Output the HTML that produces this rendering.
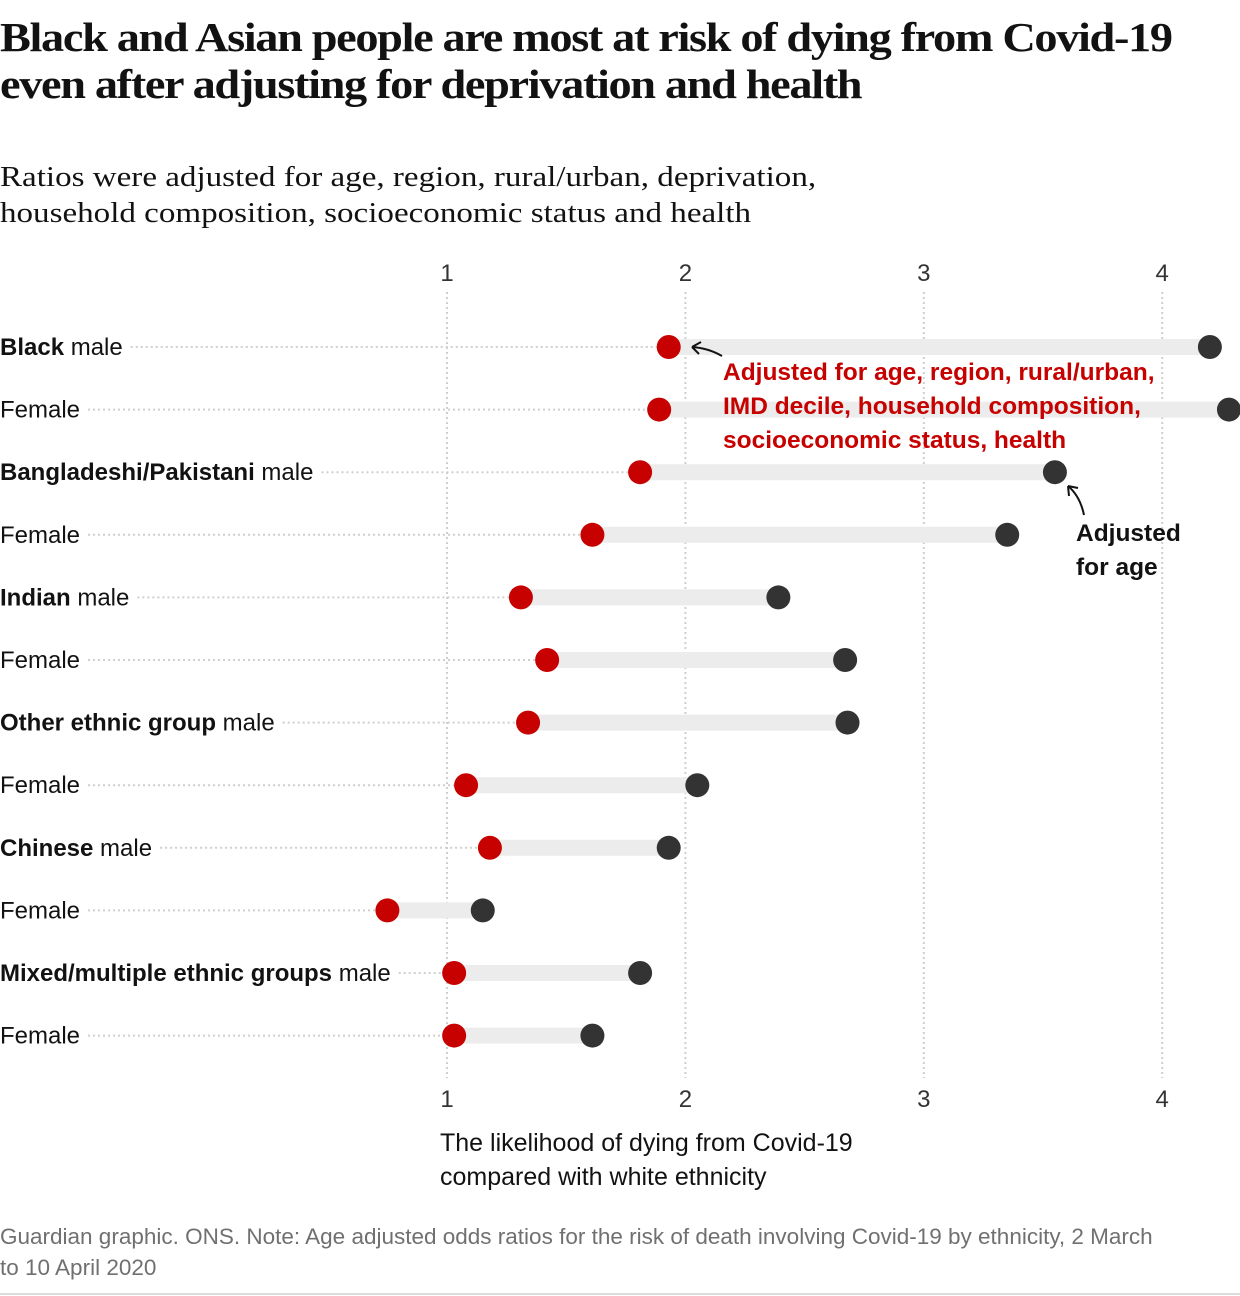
<!DOCTYPE html>
<html><head><meta charset="utf-8"><style>
body{margin:0;background:#fff;width:1240px;height:1296px;overflow:hidden;font-family:"Liberation Sans",sans-serif}
#t{position:absolute;left:0;top:14px;font-family:"Liberation Serif",serif;font-weight:bold;font-size:41px;line-height:47px;letter-spacing:-1.2px;color:#121212;margin:0;white-space:nowrap;transform:scaleX(1.13);transform-origin:0 0}
#s{position:absolute;left:0;top:160px;font-family:"Liberation Serif",serif;font-size:28.5px;line-height:36px;color:#121212;margin:0;white-space:nowrap;transform:scaleX(1.16);transform-origin:0 0}
#n{position:absolute;left:0;top:1221px;font-size:22.5px;line-height:31px;color:#707070;width:1240px;white-space:nowrap}
#bl{position:absolute;left:0;top:1293px;width:1240px;height:2px;background:#dcdcdc}
svg{position:absolute;left:0;top:0}
</style></head><body>
<h1 id="t">Black and Asian people are most at risk of dying from Covid-19<br>even after adjusting for deprivation and health</h1>
<p id="s">Ratios were adjusted for age, region, rural/urban, deprivation,<br>household composition, socioeconomic status and health</p>
<svg id="c" width="1240" height="1296"></svg>
<div id="n">Guardian graphic. ONS. Note: Age adjusted odds ratios for the risk of death involving Covid-19 by ethnicity, 2 March<br>to 10 April 2020</div>
<div id="bl"></div>
<script>
const groups=["Black","","Bangladeshi/Pakistani","","Indian","","Other ethnic group","","Chinese","","Mixed/multiple ethnic groups",""];
const sexes=["male","Female","male","Female","male","Female","male","Female","male","Female","male","Female"];
const adjustedAll=[1.93,1.89,1.81,1.61,1.31,1.42,1.34,1.08,1.18,0.75,1.03,1.03];
const adjustedAge=[4.20,4.28,3.55,3.35,2.39,2.67,2.68,2.05,1.93,1.15,1.81,1.61];
const ticks=[1,2,3,4];
const svg=document.getElementById('c');const NS='http://www.w3.org/2000/svg';
function x(v){return 447+(v-1)*238.4;}
function y(i){return 347+i*62.6;}
function mk(t,a,p){const e=document.createElementNS(NS,t);for(const k in a)e.setAttribute(k,a[k]);(p||svg).appendChild(e);return e;}
ticks.forEach(t=>{
 const g=mk('line',{x1:x(t),x2:x(t),y1:292,y2:1078,stroke:'#cfcfcf','stroke-width':2,'stroke-dasharray':'2,3'});
 
 
 [272,1098].forEach((yy,j)=>{const l=mk('text',{x:x(t),y:yy+9,'text-anchor':'middle','font-size':24,fill:'#333'});l.textContent=t;
 
 });
});
groups.forEach((g,i)=>{
 const yy=y(i);
 const tx=mk('text',{x:0,y:yy+8,'font-size':24,fill:'#121212'});
 
 
 if(g){const b=mk('tspan',{'font-weight':'bold'},tx);b.textContent=g+' ';const s=mk('tspan',{},tx);s.textContent=sexes[i];}
 else tx.textContent=sexes[i];
 const w=tx.getComputedTextLength();
 const ld=mk('line',{x1:w+8,x2:x(adjustedAll[i]),y1:yy,y2:yy,stroke:'#cfcfcf','stroke-width':2,'stroke-dasharray':'2,3'});
 
 
 const tr=mk('line',{x1:x(adjustedAll[i]),x2:x(adjustedAge[i]),y1:yy,y2:yy,stroke:'#ececec','stroke-width':16});
 
 
 const d1=mk('circle',{cx:x(adjustedAge[i]),cy:yy,r:12,fill:'#333'});
 
 
 const d2=mk('circle',{cx:x(adjustedAll[i]),cy:yy,r:12,fill:'#c70000'});
 
 
});
const a1=mk('text',{x:723,y:380,'font-size':24.5,fill:'#c70000','font-weight':'bold'});


["Adjusted for age, region, rural/urban,","IMD decile, household composition,","socioeconomic status, health"].forEach((s,k)=>{const t=mk('tspan',{x:723,dy:k?34:0},a1);t.textContent=s;});
const a2=mk('text',{x:1076,y:541,'font-size':24.5,fill:'#121212','font-weight':'bold'});


["Adjusted","for age"].forEach((s,k)=>{const t=mk('tspan',{x:1076,dy:k?34:0},a2);t.textContent=s;});
const p1=mk('path',{d:'M722,356 Q708,348 692,347 M692,347 l9,-5 M692,347 l7,7',stroke:'#121212','stroke-width':2,fill:'none'});


const p2=mk('path',{d:'M1084,515 Q1080,496 1068,486 M1068,486 l10,2 M1068,486 l1,10',stroke:'#121212','stroke-width':2,fill:'none'});


const xt=mk('text',{x:440,y:1151,'font-size':25,fill:'#121212'});


["The likelihood of dying from Covid-19","compared with white ethnicity"].forEach((s,k)=>{const t=mk('tspan',{x:440,dy:k?34:0},xt);t.textContent=s;});
</script>
</body></html>
